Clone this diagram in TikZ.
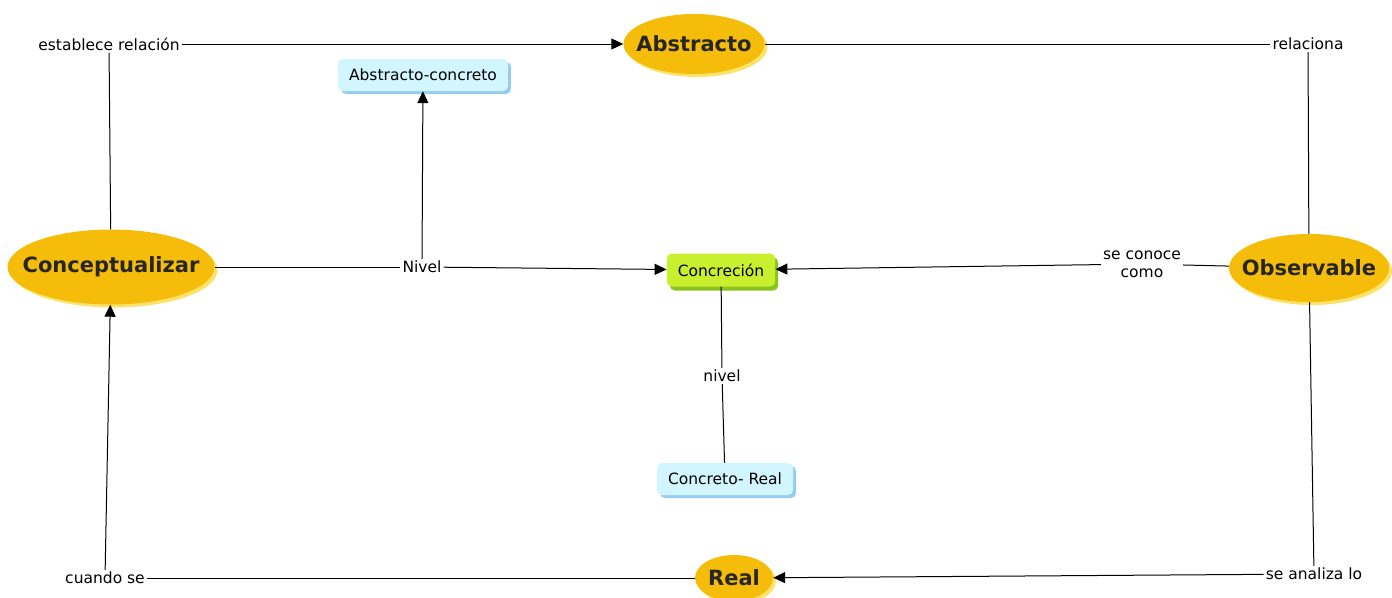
\documentclass[tikz,border=0pt]{standalone}
\usepackage{fontspec}
\setmainfont{DejaVu Sans}
\usetikzlibrary{shapes.geometric, arrows.meta, shadows}
\definecolor{gold}{HTML}{F5BC0A}
\definecolor{goldshade}{HTML}{FBE36A}
\definecolor{lime}{HTML}{C8F02E}
\definecolor{limeshade}{HTML}{8CC21E}
\definecolor{sky}{HTML}{D2F6FF}
\definecolor{skyshade}{HTML}{95CDF0}
\tikzstyle{concept} = [
    ellipse,
    inner xsep=-20pt,
    inner ysep=0pt,
    fill=gold,
    font=\fontsize{21}{24}\selectfont\bfseries,
    text=black!85,
    drop shadow={shadow xshift=3pt, shadow yshift=-3pt, fill=goldshade, opacity=1}
]
\tikzstyle{keybox} = [
    rectangle,
    rounded corners=5pt,
    minimum height=33pt,
    inner xsep=11pt,
    fill=lime,
    font=\fontsize{15.5}{18}\selectfont,
    drop shadow={shadow xshift=3pt, shadow yshift=-4pt, fill=limeshade, opacity=1}
]
\tikzstyle{levelbox} = [
    rectangle,
    rounded corners=5pt,
    minimum height=32pt,
    inner xsep=11pt,
    fill=sky,
    font=\fontsize{15.5}{18}\selectfont,
    drop shadow={shadow xshift=3pt, shadow yshift=-3pt, fill=skyshade, opacity=1}
]
\tikzstyle{linkphrase} = [
    inner sep=2pt,
    align=center,
    font=\fontsize{15.5}{17}\selectfont
]
\tikzstyle{line} = [line width=1pt]
\tikzstyle{arrow} = [line width=1pt, -{Triangle[length=12pt,width=11pt]}]

\begin{document}
\begin{tikzpicture}[x=1pt, y=-1pt]
\useasboundingbox (0,0) rectangle (1392,597);

\node (concept) [concept, minimum width=207pt, minimum height=75pt] at (111,267) {Conceptualizar};
\node (abstract) [concept, minimum width=141pt, minimum height=60pt] at (694,44) {Abstracto};
\node (observe) [concept, minimum width=160pt, minimum height=68pt] at (1309,268) {Observable};
\node (real) [concept, minimum width=78pt, minimum height=46pt] at (734,578) {Real};

\node (concrete) [keybox] at (721,270) {Concreción};
\node (abscon) [levelbox] at (423,75) {Abstracto-concreto};
\node (conreal) [levelbox] at (725,479) {Concreto- Real};

\node (relates) [linkphrase] at (109,44) {establece relación};
\node (relacion) [linkphrase] at (1308,44) {relaciona};
\node (level1) [linkphrase] at (422,267) {Nivel};
\node (known) [linkphrase] at (1142,264) {se conoce\\[1pt]como};
\node (level2) [linkphrase] at (722,376) {nivel};
\node (when) [linkphrase] at (105,578) {cuando se};
\node (analyse) [linkphrase] at (1314,574) {se analiza lo};

\draw [line] (concept) -- (relates);
\draw [arrow] (relates) -- (abstract);
\draw [line] (abstract) -- (relacion);
\draw [line] (relacion) -- (observe);
\draw [line] (concept) -- (level1);
\draw [arrow] (level1) -- (concrete);
\draw [arrow] (level1) -- (abscon);
\draw [line] (observe) -- (known);
\draw [arrow] (known) -- (concrete);
\draw [line] (concrete) -- (level2);
\draw [line] (level2) -- (conreal);
\draw [line] (observe) -- (analyse);
\draw [arrow] (analyse) -- (real);
\draw [line] (real) -- (when);
\draw [arrow] (when) -- (concept);

\end{tikzpicture}
\end{document}
